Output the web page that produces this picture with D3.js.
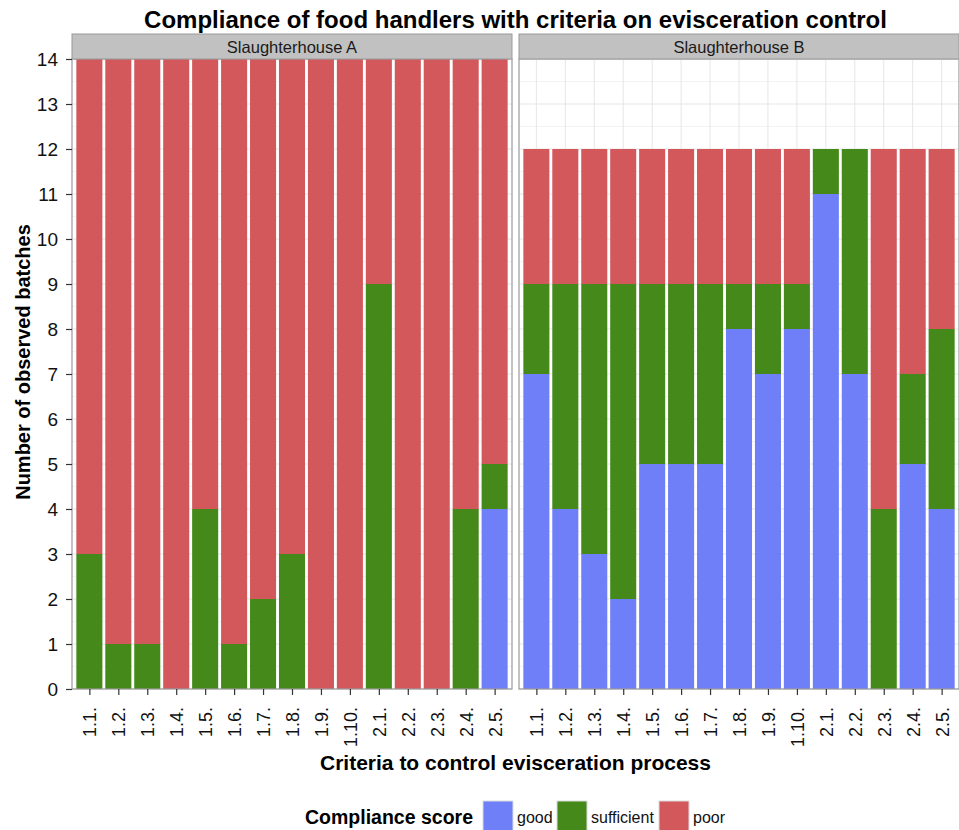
<!DOCTYPE html>
<html>
<head>
<meta charset="utf-8">
<script src="https://cdn.jsdelivr.net/npm/d3@7/dist/d3.min.js"></script>
<style>
  html, body { margin: 0; padding: 0; background: #fff; }
  svg { display: block; font-family: "Liberation Sans", Arial, sans-serif; }
</style>
</head>
<body>
<svg id="chart" width="959" height="830"></svg>
<script>
// Criteria codes on the x axis
const criteria = ["1.1.", "1.2.", "1.3.", "1.4.", "1.5.", "1.6.", "1.7.", "1.8.", "1.9.", "1.10.",
                  "2.1.", "2.2.", "2.3.", "2.4.", "2.5."];
const facets = ["Slaughterhouse A", "Slaughterhouse B"];
const scores = ["good", "sufficient", "poor"];
const yTicks = [0, 1, 2, 3, 4, 5, 6, 7, 8, 9, 10, 11, 12, 13, 14];

// Number of observed batches per score, slaughterhouse A
const goodA       = [0, 0, 0, 0, 0, 0, 0, 0, 0, 0, 0, 0, 0, 0, 4];
const sufficientA = [3, 1, 1, 0, 4, 1, 2, 3, 0, 0, 9, 0, 0, 4, 1];
const poorA       = [11, 13, 13, 14, 10, 13, 12, 11, 14, 14, 5, 14, 14, 10, 9];

// Number of observed batches per score, slaughterhouse B
const goodB       = [7, 4, 3, 2, 5, 5, 5, 8, 7, 8, 11, 7, 0, 5, 4];
const sufficientB = [2, 5, 6, 7, 4, 4, 4, 1, 2, 1, 1, 5, 4, 2, 4];
const poorB       = [3, 3, 3, 3, 3, 3, 3, 3, 3, 3, 0, 0, 8, 5, 4];

const colors = { good: "#6E7FF8", sufficient: "#45891A", poor: "#D3585C" };

const panelData = [
  { name: facets[0], good: goodA, sufficient: sufficientA, poor: poorA },
  { name: facets[1], good: goodB, sufficient: sufficientB, poor: poorB }
];

const svg = d3.select("#chart");

const panelTop = 59, panelBottom = 689, panelW = 440;
const panelLefts = [72, 519];
const stripTop = 34;

// Discrete positions with 0.6 padding each side
const x = d3.scaleLinear().domain([0.4, criteria.length + 0.6]).range([0, panelW]);
const unit = x(1) - x(0);
const barW = 0.9 * unit;
const y = d3.scaleLinear().domain([0, 14]).range([panelBottom, panelTop]);

// Title
svg.append("text")
  .attr("x", 515.5).attr("y", 28)
  .attr("text-anchor", "middle")
  .attr("font-size", 24).attr("font-weight", "bold").attr("fill", "#000")
  .text("Compliance of food handlers with criteria on evisceration control");

panelData.forEach((p, pi) => {
  const g = svg.append("g").attr("transform", `translate(${panelLefts[pi]},0)`);

  // Strip
  g.append("rect")
    .attr("x", 0).attr("y", stripTop).attr("width", panelW).attr("height", panelTop - stripTop)
    .attr("fill", "#C1C1C1").attr("stroke", "#9a9a9a").attr("stroke-width", 1);
  g.append("text")
    .attr("x", panelW / 2).attr("y", (stripTop + panelTop) / 2 + 6)
    .attr("text-anchor", "middle").attr("font-size", 16.5).attr("fill", "#1a1a1a")
    .text(p.name);

  // Grid: minor then major
  const minor = d3.range(0.5, 14, 1);
  g.selectAll(".gminor").data(minor).join("line")
    .attr("x1", 0).attr("x2", panelW)
    .attr("y1", d => y(d)).attr("y2", d => y(d))
    .attr("stroke", "#f3f3f3").attr("stroke-width", 1);
  g.selectAll(".gmajor").data(yTicks).join("line")
    .attr("x1", 0).attr("x2", panelW)
    .attr("y1", d => y(d)).attr("y2", d => y(d))
    .attr("stroke", "#e6e6e6").attr("stroke-width", 1);
  g.selectAll(".gvert").data(criteria).join("line")
    .attr("x1", (d, i) => x(i + 1)).attr("x2", (d, i) => x(i + 1))
    .attr("y1", panelTop).attr("y2", panelBottom)
    .attr("stroke", "#e6e6e6").attr("stroke-width", 1);

  // Stacked bars
  const rows = criteria.map((c, i) => ({ c, i, good: p.good[i], sufficient: p.sufficient[i], poor: p.poor[i] }));
  const stacked = d3.stack().keys(scores)(rows);
  stacked.forEach(layer => {
    g.selectAll(null).data(layer).join("rect")
      .attr("x", d => x(d.data.i + 1) - barW / 2)
      .attr("width", barW)
      .attr("y", d => y(d[1]))
      .attr("height", d => y(d[0]) - y(d[1]))
      .attr("fill", colors[layer.key]);
  });

  // Panel border
  g.append("rect")
    .attr("x", 0).attr("y", panelTop).attr("width", panelW).attr("height", panelBottom - panelTop)
    .attr("fill", "none").attr("stroke", "#9a9a9a").attr("stroke-width", 1.2);

  // X axis
  const xAxis = d3.axisBottom(d3.scalePoint().domain(criteria).range([x(1), x(criteria.length)]))
    .tickSize(6).tickPadding(4);
  const ax = g.append("g").attr("transform", `translate(0,${panelBottom})`).call(xAxis);
  ax.select(".domain").remove();
  ax.selectAll(".tick line").attr("stroke", "#333").attr("stroke-width", 1.2);
  ax.selectAll(".tick text")
    .attr("font-size", 18).attr("fill", "#111")
    .attr("transform", "rotate(-90)")
    .attr("text-anchor", "end")
    .attr("x", -18).attr("y", 0).attr("dy", "0.36em");
});

// Y axis (left panel only)
const yAxis = d3.axisLeft(y).tickValues(yTicks).tickSize(6).tickPadding(8);
const ay = svg.append("g").attr("transform", `translate(${panelLefts[0]},0)`).call(yAxis);
ay.select(".domain").remove();
ay.selectAll(".tick line").attr("stroke", "#333").attr("stroke-width", 1.2);
ay.selectAll(".tick text").attr("font-size", 19).attr("fill", "#111");

// Axis titles
svg.append("text")
  .attr("x", 515.5).attr("y", 770)
  .attr("text-anchor", "middle").attr("font-size", 21).attr("font-weight", "bold").attr("fill", "#000")
  .text("Criteria to control evisceration process");
svg.append("text")
  .attr("transform", `translate(30,362) rotate(-90)`)
  .attr("text-anchor", "middle").attr("font-size", 20).attr("font-weight", "bold").attr("fill", "#000")
  .text("Number of observed batches");

// Legend
const legend = svg.append("g");
legend.append("text")
  .attr("x", 305).attr("y", 824)
  .attr("font-size", 19.5).attr("font-weight", "bold").attr("fill", "#000")
  .text("Compliance score");
const keyX = { good: 483, sufficient: 557, poor: 659 };
scores.forEach(s => {
  legend.append("rect")
    .attr("x", keyX[s]).attr("y", 801).attr("width", 30).attr("height", 31)
    .attr("fill", colors[s]).attr("stroke", "#dcdcdc").attr("stroke-width", 1);
  legend.append("text")
    .attr("x", keyX[s] + 34).attr("y", 823)
    .attr("font-size", 16).attr("fill", "#111")
    .text(s);
});
</script>
</body>
</html>
